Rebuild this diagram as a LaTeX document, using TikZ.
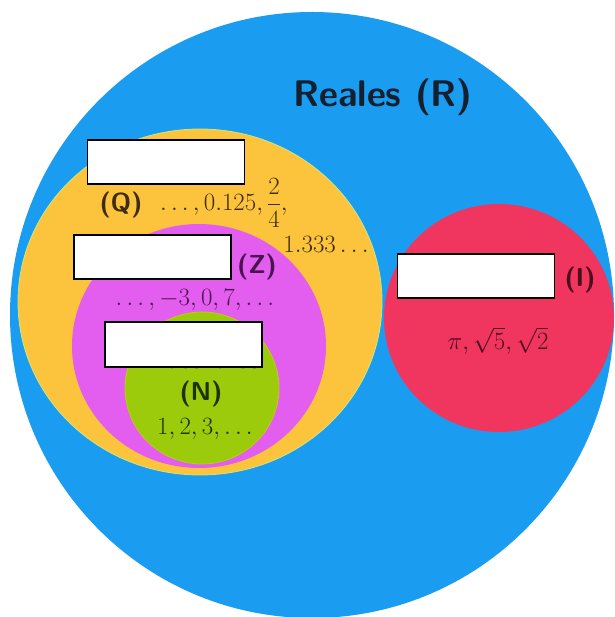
\documentclass[tikz,border=0pt]{standalone}
\usepackage{amsmath}
\usetikzlibrary{shapes.geometric}
\definecolor{cR}{HTML}{1A9CF0}
\definecolor{cQ}{HTML}{FBC43C}
\definecolor{cZ}{HTML}{E35DEE}
\definecolor{cN}{HTML}{9CCB0C}
\definecolor{cI}{HTML}{F0355F}
\definecolor{tR}{HTML}{15202E}
\definecolor{tQ}{HTML}{3E2C10}
\definecolor{tZ}{HTML}{4A1452}
\definecolor{tN}{HTML}{1E3208}
\definecolor{tI}{HTML}{4A0E1C}
\tikzset{
  setlbl/.style={font=\sffamily\bfseries\fontsize{26}{28}\selectfont, inner sep=0pt},
  numlbl/.style={font=\fontsize{25}{28}\selectfont, inner sep=0pt},
  blank/.style={draw=black, line width=1.6pt, fill=white, rectangle, minimum width=157pt, minimum height=44pt, inner sep=0pt}
}
\begin{document}
\begin{tikzpicture}[x=1pt,y=-1pt]
\useasboundingbox (0,0) rectangle (614,617);
\fill[white] (0,0) rectangle (614,617);
% sets
\fill[cR] (312,315) ellipse [x radius=302pt, y radius=303pt];
\filldraw[fill=cQ, draw=cQ!70!green!60!white, line width=0.8pt] (200,302) ellipse [x radius=182pt, y radius=173pt];
\fill[cZ] (199,346) ellipse [x radius=127pt, y radius=122pt];
\filldraw[fill=cN, draw=cN!60!cQ, line width=0.8pt] (202,388) ellipse [x radius=77pt, y radius=76pt];
\fill[cI] (499,318) ellipse [x radius=115pt, y radius=114pt];
% labels
\node[font=\sffamily\bfseries\fontsize{37}{40}\selectfont, text=tR, inner sep=0pt] (reales) at (383,97) {Reales (R)};
\node[setlbl, text=tQ] (q) at (121,205) {(Q)};
\node[numlbl, text=tQ, anchor=west] (qn) at (160,203) {$\ldots,0.125,\dfrac{2}{4},$};
\node[numlbl, text=tQ] (qn2) at (326,244) {$1.333\ldots$};
\node[setlbl, text=tZ] (z) at (257,267) {(Z)};
\node[numlbl, text=tZ] (zn) at (195,300) {$\ldots,-3,0,7,\ldots$};
\node[setlbl, text=tN] (nat) at (203,359.5) {Naturales};
\node[setlbl, text=tN] (n) at (201,394) {(N)};
\node[numlbl, text=tN] (nn) at (205,429) {$1,2,3,\ldots$};
\node[setlbl, text=tI] (i) at (580,280) {(I)};
\node[numlbl, text=tI] (in) at (498,341) {$\pi,\sqrt{5},\sqrt{2}$};
% blank boxes
\node[blank] (bq) at (166,162) {};
\node[blank] (bz) at (152.5,257) {};
\node[blank, minimum height=45pt] (bn) at (183.5,344.5) {};
\node[blank] (bi) at (476,276) {};
\end{tikzpicture}
\end{document}
